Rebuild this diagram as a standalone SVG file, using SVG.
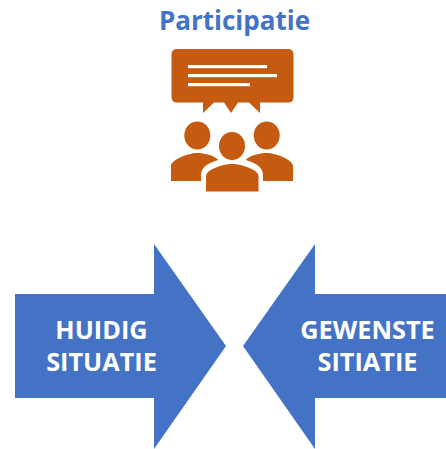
<svg xmlns="http://www.w3.org/2000/svg" width="446" height="449" viewBox="0 0 446 449">
<style>
.arrow{fill:#4472c4}
.icon{fill:#c55a11}
.bar{fill:#fff}
text{font-family:"Open Sans","Noto Sans","Liberation Sans",sans-serif;font-weight:700;text-anchor:middle}
.lbl{font-size:25.300px;fill:#fff}
.title{font-size:26px;fill:#4472c4}
</style>
<rect width="446" height="449" fill="#fff"/>
<g id="title"><text class="title" x="234.500" y="30">Participatie</text></g>
<g id="participation-icon">
<path class="icon" d="M177 49H288Q293.500 49 293.500 54.500V97Q293.500 102.500 288 102.500H260V113L249 102.500H238L231 113L224 102.500H214L203 113V102.500H177Q171.500 102.500 171.500 97V54.500Q171.500 49 177 49Z"/>
<rect class="bar" x="188" y="65" width="79" height="3.200"/>
<rect class="bar" x="188" y="74" width="89" height="3.200"/>
<rect class="bar" x="188" y="83" width="62" height="3.200"/>
<ellipse class="icon" cx="197.300" cy="135.500" rx="13" ry="14"/>
<ellipse class="icon" cx="266.700" cy="135.500" rx="13" ry="14"/>
<ellipse class="icon" cx="232" cy="146" rx="13" ry="14"/>
<path class="icon" d="M171 181V166C171 160 188 153 197 153C205 153 213 155 218.500 160C207 163 201 168 201 175V181Z"/>
<path class="icon" d="M293 181V166C293 160 276 153 267 153C259 153 251 155 245.500 160C257 163 263 168 263 175V181Z"/>
<path class="icon" d="M206 191.500V176C206 170 222 164 232 164C242 164 258.500 170 258.500 176V191.500Z"/>
</g>
<g id="huidig-situatie">
<path class="arrow" d="M15 294H154V244L226 346L154 449V398H15Z"/>
<text class="lbl" x="101.500" y="339">HUIDIG</text>
<text class="lbl" x="101.500" y="370.500">SITUATIE</text>
</g>
<g id="gewenste-sitiatie">
<path class="arrow" d="M446 294H315V244L243 346L315 449V398H446Z"/>
<text class="lbl" x="367.500" y="339">GEWENSTE</text>
<text class="lbl" x="367.500" y="370.500">SITIATIE</text>
</g>
</svg>
